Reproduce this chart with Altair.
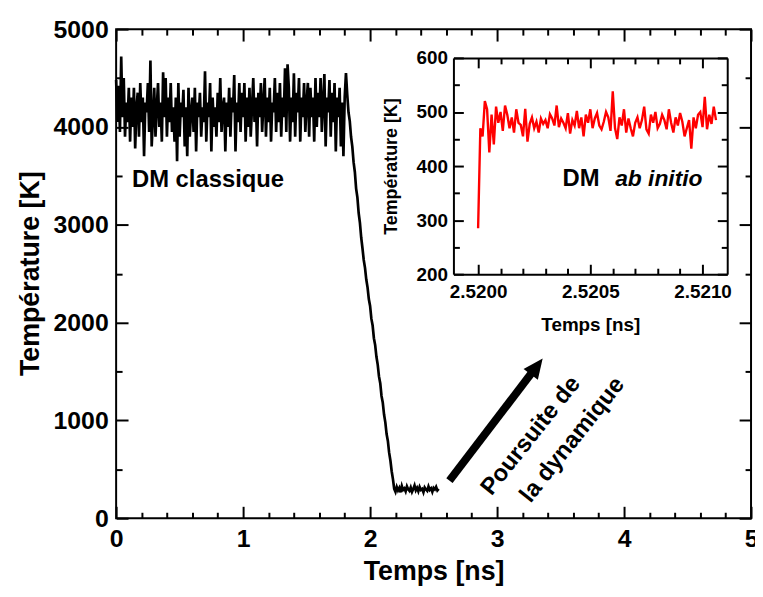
import altair as alt
import pandas as pd

FONT = "Liberation Sans"

# ---------------- main curve (classical MD) ----------------
noise_T = [
    4480, 4050, 4420, 3950, 4720, 4100, 4500, 3900, 4250, 4050,
    4400, 3850, 4300, 4000, 4400, 3780, 4200, 4350, 3900, 4450,
    4050, 4300, 3700, 4250, 4150, 4450, 3950, 4680, 3800, 4100,
    4400, 3900, 4200, 4450, 4000, 4250, 3850, 4560, 4100, 4500,
    3900, 4300, 4050, 4450, 3950, 4200, 3850, 4300, 3650, 4450,
    3900, 4250, 4100, 4380, 3800, 4200, 3700, 4400, 3900, 4150,
    4300, 3950, 4400, 3750, 4250, 4100, 4350, 3900, 4200, 4050,
    4570, 3850, 4250, 4100, 4450, 3750, 4300, 4000, 4200, 3900,
    4350, 4050, 4500, 3950, 4200, 4300, 3750, 4250, 4000, 4400,
    3900, 4300, 4150, 4530, 3750, 4250, 4050, 4450, 3950, 4350,
    4100, 4450, 3850, 4300, 4000, 4400, 3900, 4200, 4500, 4050,
    4300, 3800, 4350, 4100, 4450, 3950, 4250, 4500, 3900, 4300,
    4050, 4400, 3850, 4250, 4150, 4500, 3950, 4350, 4050, 4450,
    3900, 4300, 4100, 4600, 3950, 4640, 4400, 3850, 4300, 4050,
    4550, 3900, 4350, 4150, 4500, 3850, 4300, 4100, 4450, 3950,
    4250, 4450, 3900, 4400, 4100, 4300, 3850, 4500, 4000, 4350,
    4100, 4500, 3950, 4250, 4540, 3800, 4300, 4150, 4480, 3900,
    4350, 4050, 4450, 3750, 4300, 4100, 4400, 3800, 4250, 3700,
    4300, 4550, 4330,
]
noise_t = [round(0.01 * i, 2) for i in range(len(noise_T))]

drop_t = [1.83, 1.84, 1.85, 1.86, 1.87, 1.88, 1.89, 1.90, 1.91, 1.92,
          1.93, 1.94, 1.95, 1.96, 1.97, 1.98, 1.99, 2.00, 2.01, 2.02,
          2.03, 2.04, 2.05, 2.06, 2.07, 2.08, 2.09, 2.10, 2.11, 2.12,
          2.13, 2.14, 2.15, 2.16, 2.17, 2.18]
drop_T = [4150, 4060, 3900, 3800, 3640, 3540, 3370, 3280, 3120, 3020,
          2870, 2760, 2640, 2560, 2440, 2360, 2240, 2170, 2040, 1970,
          1840, 1770, 1650, 1570, 1450, 1380, 1250, 1180, 1060, 980,
          860, 790, 670, 590, 480, 400]

flat_T = [300, 270, 320, 285, 310, 265, 330, 290, 305, 275,
          325, 295, 280, 315, 270, 300, 335, 285, 310, 275,
          320, 290, 300, 265, 315, 295, 280, 325, 290, 305,
          270, 310, 295, 320, 285, 300]
flat_t = [round(2.19 + 0.01 * i, 2) for i in range(len(flat_T))]

# ---------------- inset curve (ab initio MD) ----------------
inset_T = [
    285, 470, 455, 520, 505, 425, 495, 440, 510, 480,
    500, 465, 512, 495, 470, 490, 462, 505, 480, 476,
    455, 506, 445, 478, 490, 470, 482, 462, 488, 478,
    485, 470, 496, 488, 475, 512, 472, 488, 480, 470,
    498, 460, 485, 475, 502, 470, 490, 455, 495, 480,
    505, 470, 488, 498, 475, 468, 482, 500, 490, 465,
    538, 470, 450, 490, 475, 505, 462, 488, 470, 455,
    480, 490, 470, 485, 510, 468, 460, 495, 480, 500,
    470, 478, 495, 485, 468, 505, 480, 462, 490, 475,
    498, 482, 455, 470, 485, 432, 490, 470, 495, 500,
    472, 528, 468, 495, 478, 510, 485,
]
inset_t = [2.52 + 0.00001 * i for i in range(len(inset_T))]

# ---------------- axes values ----------------
main_x_major = [0, 1, 2, 3, 4, 5]
main_x_all = [round(0.2 * i, 1) for i in range(26)]
main_y_major = [0, 1000, 2000, 3000, 4000, 5000]
main_y_all = [500 * i for i in range(11)]
ins_x_major = [2.52, 2.5205, 2.521]
ins_x_all = [round(2.52 + 0.0001 * i, 4) for i in range(11)]
ins_y_major = [200, 300, 400, 500, 600]
ins_y_all = [200 + 50 * i for i in range(9)]

# ---------------- annotations ----------------
arrow_start = (2.625, 385)
arrow_shaft_end = (3.274, 1488)
arrow_head = (3.312, 1552)
rot_x = [3.266, 3.594]
rot_y = [842, 801]
rot_labels = ["Poursuite de", "la dynamique"]

W, H = 640, 493
MAIN_X = [0, 5]
MAIN_Y = [0, 5000]
INS_X = [2.51989, 2.52111]
INS_Y = [200, 600]
INS_XR = [340, 616]
INS_YR = [247, 29]


def sc(domain, rng=None):
    if rng is None:
        return alt.Scale(domain=domain, nice=False, zero=False)
    return alt.Scale(domain=domain, range=rng, nice=False, zero=False)


def cond(test, major, minor):
    return {"condition": {"test": test, "value": major}, "value": minor}


main_df = pd.DataFrame({
    "t": noise_t + drop_t + flat_t,
    "T": noise_T + drop_T + flat_T,
})
inset_df = pd.DataFrame({"t": inset_t, "T": inset_T})
dummy_main = pd.DataFrame({"a": [1.0], "b": [1000.0]})
dummy_ins = pd.DataFrame({"a": [2.5205], "b": [400.0]})

# main line + label axes
main_line = alt.Chart(main_df).mark_line(color="black", strokeWidth=2.7).encode(
    x=alt.X("t:Q", scale=sc(MAIN_X), axis=alt.Axis(
        values=main_x_major, ticks=False, domain=False, format="d",
        labelFontSize=25, labelPadding=9, labelFlush=False,
        title="Temps [ns]", titleFontSize=27, titleX=320, titleY=54,
        titleBaseline="middle", titleAlign="center")),
    y=alt.Y("T:Q", scale=sc(MAIN_Y), axis=alt.Axis(
        values=main_y_major, ticks=False, domain=False, format="d",
        labelFontSize=25, labelPadding=8,
        title="Température [K]", titleFontSize=27, titleX=-86, titleY=246,
        titleAngle=270, titleBaseline="middle", titleAlign="center")),
)

xtest_main = "abs(datum.value - round(datum.value)) < 0.001"
ytest_main = "datum.value % 1000 === 0"

# inward ticks bottom & left edges
main_ticks1 = alt.Chart(dummy_main).mark_point(opacity=0).encode(
    x=alt.X("a:Q", scale=sc(MAIN_X), axis=alt.Axis(
        orient="top", offset=-H, values=main_x_all, labels=False, domain=False,
        tickSize=cond(xtest_main, 12, 6), title=None)),
    y=alt.Y("b:Q", scale=sc(MAIN_Y), axis=alt.Axis(
        orient="right", offset=-W, values=main_y_all, labels=False, domain=False,
        tickSize=cond(ytest_main, 12, 6), title=None)),
)
# inward ticks top & right edges
main_ticks2 = alt.Chart(dummy_main).mark_point(opacity=0).encode(
    x=alt.X("a:Q", scale=sc(MAIN_X), axis=alt.Axis(
        orient="bottom", offset=-H, values=main_x_all, labels=False, domain=False,
        tickSize=cond(xtest_main, 12, 6), title=None)),
    y=alt.Y("b:Q", scale=sc(MAIN_Y), axis=alt.Axis(
        orient="left", offset=-W, values=main_y_all, labels=False, domain=False,
        tickSize=cond(ytest_main, 12, 6), title=None)),
)

# inset line + label axes
inset_line = alt.Chart(inset_df).mark_line(color="#ff0000", strokeWidth=2.4).encode(
    x=alt.X("t:Q", scale=sc(INS_X, INS_XR), axis=alt.Axis(
        orient="bottom", offset=INS_YR[0] - H, values=ins_x_major, ticks=False,
        domain=False, format=".4f", labelFontSize=19, labelPadding=9,
        labelFlush=False,
        title="Temps [ns]", titleFontSize=19, titleX=478, titleY=51,
        titleBaseline="middle", titleAlign="center")),
    y=alt.Y("T:Q", scale=sc(INS_Y, INS_YR), axis=alt.Axis(
        orient="left", offset=-INS_XR[0], values=ins_y_major, ticks=False,
        domain=False, format="d", labelFontSize=19, labelPadding=6,
        title="Température [K]", titleFontSize=18, titleX=-62, titleY=138,
        titleAngle=270, titleBaseline="middle", titleAlign="center")),
)

xtest_ins = "abs(datum.value * 2000 - round(datum.value * 2000)) < 0.01"
ytest_ins = "datum.value % 100 === 0"

inset_ticks1 = alt.Chart(dummy_ins).mark_point(opacity=0).encode(
    x=alt.X("a:Q", scale=sc(INS_X, INS_XR), axis=alt.Axis(
        orient="top", offset=-INS_YR[0], values=ins_x_all, labels=False,
        tickSize=cond(xtest_ins, 10, 6), title=None)),
    y=alt.Y("b:Q", scale=sc(INS_Y, INS_YR), axis=alt.Axis(
        orient="right", offset=INS_XR[0] - W, values=ins_y_all, labels=False,
        tickSize=cond(ytest_ins, 10, 6), title=None)),
)
inset_ticks2 = alt.Chart(dummy_ins).mark_point(opacity=0).encode(
    x=alt.X("a:Q", scale=sc(INS_X, INS_XR), axis=alt.Axis(
        orient="bottom", offset=INS_YR[1] - H, values=ins_x_all, labels=False,
        tickSize=cond(xtest_ins, 10, 6), title=None)),
    y=alt.Y("b:Q", scale=sc(INS_Y, INS_YR), axis=alt.Axis(
        orient="left", offset=-INS_XR[1], values=ins_y_all, labels=False,
        tickSize=cond(ytest_ins, 10, 6), title=None)),
)

# annotations
txt_df = pd.DataFrame({"x": [0.125, 3.516], "y": [3458, 3469],
                       "label": ["DM classique", "DM"]})
txt_bold = alt.Chart(txt_df).mark_text(
    align="left", baseline="middle", font=FONT, fontWeight="bold",
    fontSize=24, color="black").encode(
    x=alt.X("x:Q", scale=sc(MAIN_X), axis=None),
    y=alt.Y("y:Q", scale=sc(MAIN_Y), axis=None),
    text="label:N")

ital_df = pd.DataFrame({"x": [3.93], "y": [3469], "label": ["ab initio"]})
txt_ital = alt.Chart(ital_df).mark_text(
    align="left", baseline="middle", font=FONT, fontWeight="bold",
    fontStyle="italic", fontSize=23, color="black").encode(
    x=alt.X("x:Q", scale=sc(MAIN_X), axis=None),
    y=alt.Y("y:Q", scale=sc(MAIN_Y), axis=None),
    text="label:N")

rot_df = pd.DataFrame({"x": rot_x, "y": rot_y, "label": rot_labels})
txt_rot = alt.Chart(rot_df).mark_text(
    align="center", baseline="middle", font=FONT, fontWeight="bold",
    fontSize=24, angle=308.5, color="black").encode(
    x=alt.X("x:Q", scale=sc(MAIN_X), axis=None),
    y=alt.Y("y:Q", scale=sc(MAIN_Y), axis=None),
    text="label:N")

shaft_df = pd.DataFrame({"x": [arrow_start[0]], "y": [arrow_start[1]],
                         "x2": [arrow_shaft_end[0]], "y2": [arrow_shaft_end[1]]})
shaft = alt.Chart(shaft_df).mark_rule(color="black", strokeWidth=8,
                                      strokeCap="butt").encode(
    x=alt.X("x:Q", scale=sc(MAIN_X), axis=None),
    y=alt.Y("y:Q", scale=sc(MAIN_Y), axis=None),
    x2="x2:Q", y2="y2:Q")

head_df = pd.DataFrame({"x": [arrow_head[0]], "y": [arrow_head[1]]})
head = alt.Chart(head_df).mark_point(
    shape="M0,-1L0.9,1L-0.9,1Z", size=400, angle=37, filled=True,
    color="black", opacity=1).encode(
    x=alt.X("x:Q", scale=sc(MAIN_X), axis=None),
    y=alt.Y("y:Q", scale=sc(MAIN_Y), axis=None))

chart = alt.layer(
    main_line, main_ticks1, main_ticks2,
    inset_line, inset_ticks1, inset_ticks2,
    txt_bold, txt_ital, txt_rot, shaft, head,
).resolve_scale(
    x="independent", y="independent"
).resolve_axis(
    x="independent", y="independent"
).properties(
    width=W, height=H,
    autosize=alt.AutoSizeParams(type="none"),
    padding={"left": 109, "top": 19, "right": 4, "bottom": 66},
    background="white",
).configure_view(
    stroke="black", strokeWidth=2
).configure_axis(
    labelFont=FONT, titleFont=FONT, labelFontWeight="bold",
    titleFontWeight="bold", labelColor="black", titleColor="black",
    tickColor="black", domainColor="black", tickWidth=2, domainWidth=2,
    grid=False,
)

chart.save("out.html", embed_options={"renderer": "svg", "actions": False})
